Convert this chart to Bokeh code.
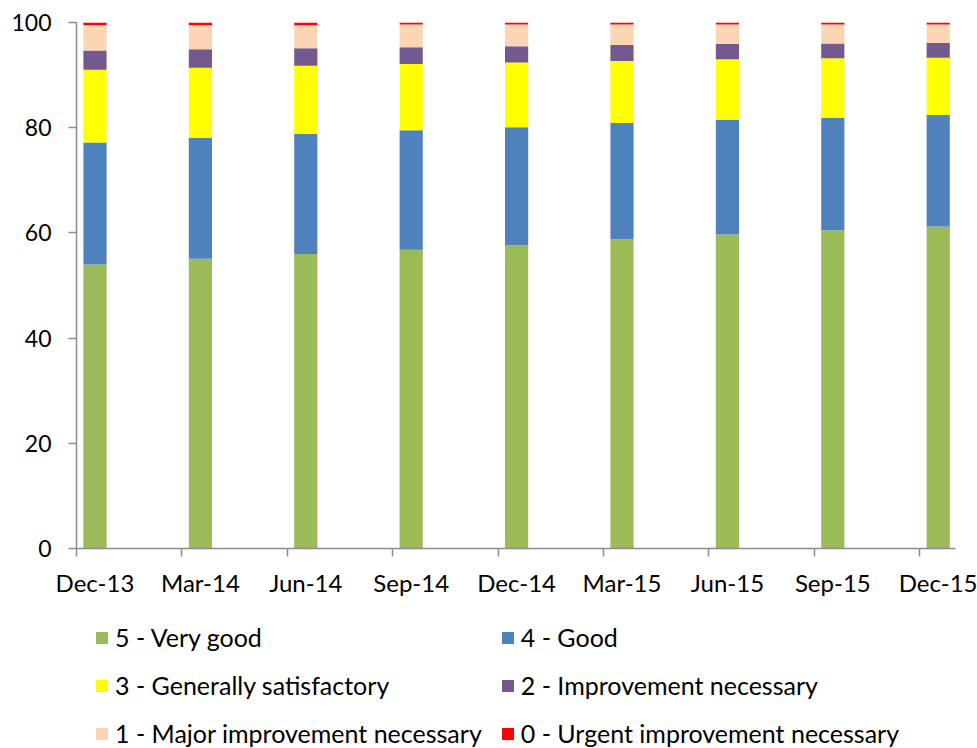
from bokeh.plotting import figure
from bokeh.layouts import column
from bokeh.models import ColumnDataSource, FixedTicker, Range1d, Legend, LegendItem
from bokeh.embed import file_html
from bokeh.resources import INLINE

# Quarterly share (%) of inspection ratings
quarters = ["Dec-13", "Mar-14", "Jun-14", "Sep-14", "Dec-14",
            "Mar-15", "Jun-15", "Sep-15", "Dec-15"]
very_good = [54.0, 55.1, 56.0, 56.8, 57.7, 58.8, 59.7, 60.5, 61.2]
good = [23.2, 23.0, 22.8, 22.7, 22.4, 22.1, 21.8, 21.4, 21.2]
generally_satisfactory = [13.8, 13.3, 13.0, 12.6, 12.3, 11.8, 11.5, 11.3, 10.9]
improvement_necessary = [3.7, 3.5, 3.3, 3.2, 3.1, 3.0, 2.9, 2.8, 2.8]
major_improvement = [4.8, 4.6, 4.4, 4.3, 4.1, 3.9, 3.7, 3.6, 3.5]
urgent_improvement = [0.5, 0.5, 0.5, 0.4, 0.4, 0.4, 0.4, 0.4, 0.4]

series_names = ["5 - Very good", "4 - Good", "3 - Generally satisfactory",
                "2 - Improvement necessary", "1 - Major improvement necessary",
                "0 - Urgent improvement necessary"]
series_keys = ["very_good", "good", "generally_satisfactory",
               "improvement_necessary", "major_improvement", "urgent_improvement"]
colors = ["#9BBB59", "#4F81BD", "#FFFF00", "#725A8F", "#FCD5B5", "#FF0000"]
y_ticks = [0, 20, 40, 60, 80, 100]

xs = list(range(len(quarters)))
source = ColumnDataSource(dict(
    x=xs,
    very_good=very_good,
    good=good,
    generally_satisfactory=generally_satisfactory,
    improvement_necessary=improvement_necessary,
    major_improvement=major_improvement,
    urgent_improvement=urgent_improvement,
))

FONT = "Lato"
AXIS_GREY = "#8C8C8C"
offset = 0.1755  # category boundary sits just left of each bar

# ---- main stacked-bar chart ----
p = figure(width=977, height=600, output_backend="svg", toolbar_location=None,
           x_range=Range1d(-offset, len(quarters) - 1 + 0.164),
           y_range=Range1d(0, 100))
p.min_border_left = 76
p.min_border_right = 22
p.min_border_top = 22
p.min_border_bottom = 52
p.outline_line_color = None
p.xgrid.visible = False
p.ygrid.visible = False

p.vbar_stack(series_keys, x="x", width=0.22, color=colors, line_color=None,
             source=source)

# x axis: labels under bars, boundary ticks between quarters
xa = p.xaxis[0]
xa.ticker = FixedTicker(ticks=xs, minor_ticks=[i - offset for i in xs])
xa.major_label_overrides = {i: q for i, q in zip(xs, quarters)}
xa.major_tick_line_color = None
xa.major_tick_out = 0
xa.major_tick_in = 0
xa.minor_tick_out = 8
xa.minor_tick_in = 0
xa.minor_tick_line_color = AXIS_GREY
xa.minor_tick_line_width = 1.5
xa.axis_line_color = AXIS_GREY
xa.axis_line_width = 1.5
xa.major_label_standoff = 11
xa.major_label_text_font = FONT
xa.major_label_text_font_size = "24px"
xa.major_label_text_color = "black"

ya = p.yaxis[0]
ya.ticker = FixedTicker(ticks=y_ticks, minor_ticks=[])
ya.major_tick_out = 8
ya.major_tick_in = 0
ya.major_tick_line_color = AXIS_GREY
ya.major_tick_line_width = 1.5
ya.axis_line_color = AXIS_GREY
ya.axis_line_width = 1.5
ya.major_label_standoff = 17
ya.major_label_text_font = FONT
ya.major_label_text_font_size = "23px"
ya.major_label_text_color = "black"

# ---- legend strip: two columns of rating keys ----
# The same stack is drawn here far outside the visible y range, so only
# its legend keys appear.
q = figure(width=977, height=148, output_backend="svg", toolbar_location=None,
           x_axis_type=None, y_axis_type=None,
           x_range=Range1d(-offset, len(quarters) - 1 + 0.164),
           y_range=Range1d(1000, 1001))
q.min_border = 0
q.outline_line_color = None
q.xgrid.visible = False
q.ygrid.visible = False

key_renderers = q.vbar_stack(series_keys, x="x", width=0.22, color=colors,
                             line_color=None, source=source)
items = [LegendItem(label=name, renderers=[r])
         for name, r in zip(series_names, key_renderers)]

lg = Legend(items=items, orientation="horizontal", ncols=2,
            location=(18, 0), border_line_color=None, background_fill_alpha=0,
            padding=0, margin=0, spacing=18, glyph_width=15, glyph_height=15,
            label_standoff=6, label_height=28, label_text_font=FONT,
            label_text_font_size="25px", label_text_color="black")
q.add_layout(lg)

open("out.html", "w").write(file_html(column(p, q, spacing=0), INLINE))
